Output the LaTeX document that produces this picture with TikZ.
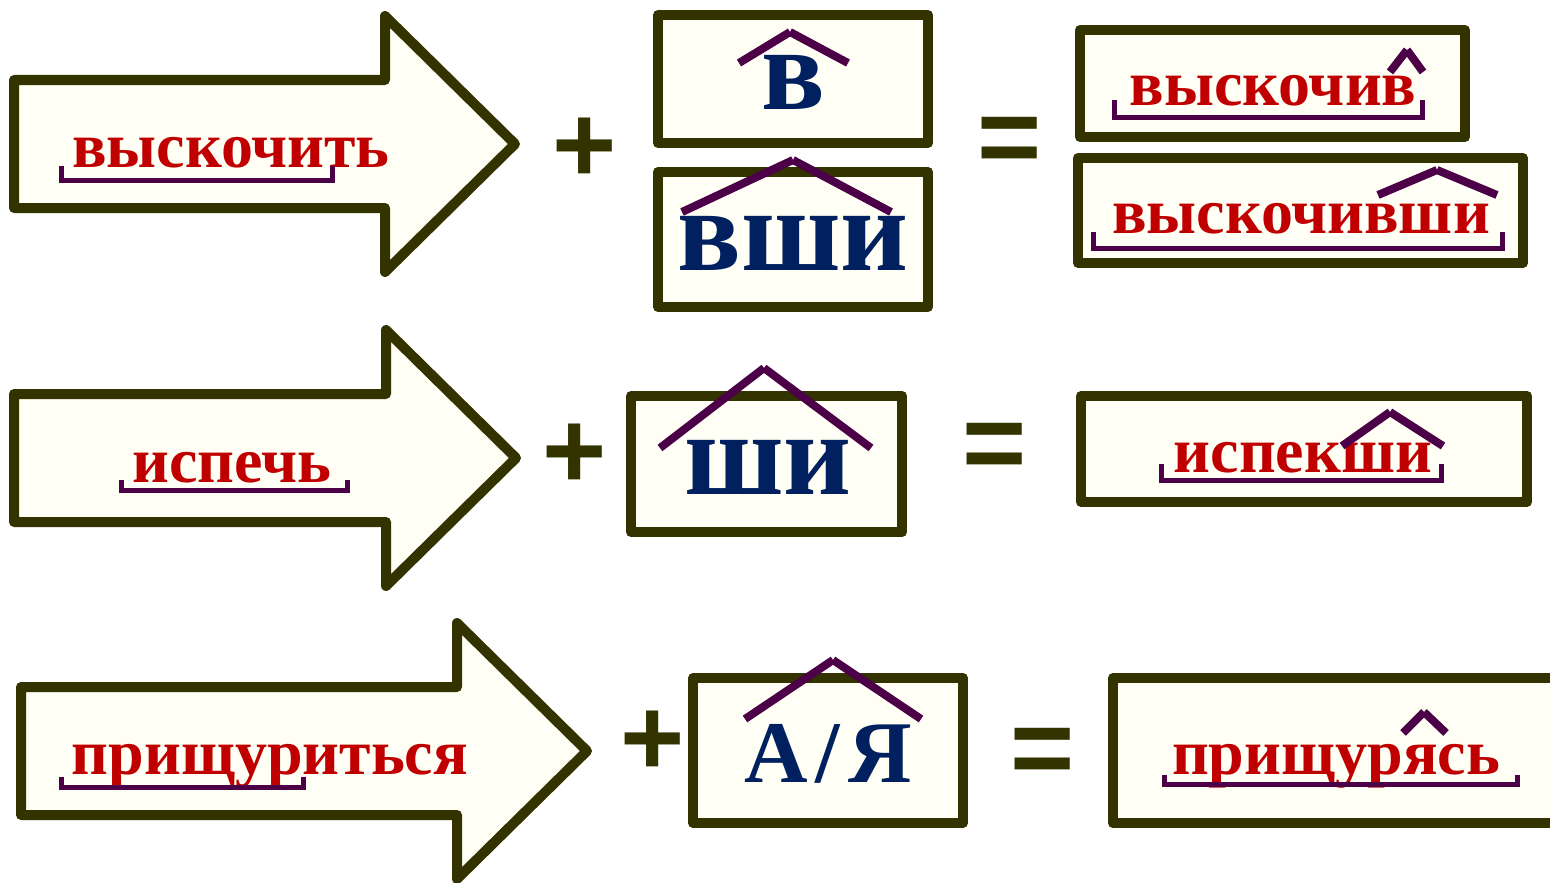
\documentclass[tikz,border=0pt]{standalone}
\usepackage{fontspec}
\setmainfont{Liberation Serif}
\newfontfamily\signFont{Liberation Sans}

\definecolor{frameCol}{HTML}{333300}
\definecolor{paperCol}{HTML}{FFFFF5}
\definecolor{wordCol}{HTML}{C00000}
\definecolor{partCol}{HTML}{002060}
\definecolor{markCol}{HTML}{4B0048}

\newcommand{\wordSty}[1]{\fontsize{64}{70}\selectfont\bfseries #1}
\newcommand{\partSty}[1]{\fontsize{118}{124}\selectfont\bfseries #1}
\newcommand{\slashSty}[1]{\fontsize{88}{92}\selectfont\bfseries #1}
\newcommand{\signSty}[1]{\fontsize{110}{110}\selectfont\signFont\bfseries #1}

% arrow: left end, start of head, middle line
\newcommand{\blockArrow}[3]{\draw[frame] (#1,#3-64) -- (#2,#3-64) -- (#2,#3-128) -- (#2+130,#3) -- (#2,#3+128) -- (#2,#3+64) -- (#1,#3+64) -- cycle;}
% stem mark under a word
\newcommand{\stemMark}[4]{\draw[stem] (#1,#3) |- (#2,#4) -- (#2,#3);}
% suffix roof over a word
\newcommand{\suffixRoof}[6]{\draw[roof] (#1,#2) -- (#3,#4); \draw[roof] (#3,#4) -- (#5,#6);}

\begin{document}
\begin{tikzpicture}[x=1pt, y=-1pt,
    frame/.style={draw=frameCol, fill=paperCol, line width=10pt, line join=round},
    stem/.style={draw=markCol, line width=5pt},
    roof/.style={draw=markCol, line width=8pt},
    word/.style={text=wordCol, inner sep=0pt, anchor=base},
    part/.style={text=partCol, inner sep=0pt, anchor=base},
    sign/.style={text=frameCol, inner sep=0pt, anchor=center}]

    \useasboundingbox (0,0) rectangle (1550,883);
    \clip (0,0) rectangle (1550,883);

    % first row
    \blockArrow{14}{385}{144}
    \node[word] (verbA) at (231,167) {\wordSty{выскочить}};
    \stemMark{61}{332}{166}{180}

    \node[sign] (plusA) at (585,150) {\signSty{+}};

    \draw[frame] (658,15) rectangle (928,143);
    \node[part] (sufV) at (793,110) {\partSty{в}};
    \suffixRoof{739}{63}{790}{32}{848}{63}

    \draw[frame] (658,172) rectangle (928,307);
    \node[part] (sufVshi) at (793,270) {\partSty{вши}};
    \suffixRoof{682}{212}{793}{160}{891}{212}

    \node[sign] (eqA) at (1010,146) {\signSty{=}};

    \draw[frame] (1080,30) rectangle (1465,137);
    \node[word] (resA) at (1273,105) {\wordSty{выскочив}};
    \stemMark{1114}{1422}{100}{117}
    \suffixRoof{1390}{72}{1407}{50}{1423}{72}

    \draw[frame] (1078,158) rectangle (1523,263);
    \node[word] (resB) at (1301,233) {\wordSty{выскочивши}};
    \stemMark{1093}{1502}{232}{248}
    \suffixRoof{1378}{195}{1437}{170}{1497}{195}

    % second row
    \blockArrow{14}{386}{458}
    \node[word] (verbB) at (232,482) {\wordSty{испечь}};
    \stemMark{121}{347}{480}{490}

    \node[sign] (plusB) at (575,456) {\signSty{+}};

    \draw[frame] (631,396) rectangle (902,532);
    \node[part] (sufShi) at (768,494) {\partSty{ши}};
    \suffixRoof{660}{448}{764}{368}{871}{448}

    \node[sign] (eqB) at (995,452) {\signSty{=}};

    \draw[frame] (1081,396) rectangle (1527,502);
    \node[word] (resC) at (1303,472) {\wordSty{испекши}};
    \stemMark{1161}{1441}{464}{480}
    \suffixRoof{1342}{446}{1390}{412}{1443}{446}

    % third row
    \blockArrow{21}{457}{751}
    \node[word] (verbC) at (270,774) {\wordSty{прищуриться}};
    \stemMark{61}{303}{777}{787}

    \node[sign] (plusC) at (653,743) {\signSty{+}};

    \draw[frame] (693,678) rectangle (963,823);
    \node[part] (sufAYa) at (828,782) {\slashSty{А\kern8pt/\kern8pt Я}};
    \suffixRoof{745}{719}{833}{660}{921}{719}

    \node[sign] (eqC) at (1043,757) {\signSty{=}};

    \draw[frame] (1113,678) rectangle (1575,823);
    \node[word] (resD) at (1336,774) {\wordSty{прищурясь}};
    \stemMark{1164}{1517}{775}{784}
    \suffixRoof{1403}{733}{1424}{712}{1446}{733}

\end{tikzpicture}
\end{document}
